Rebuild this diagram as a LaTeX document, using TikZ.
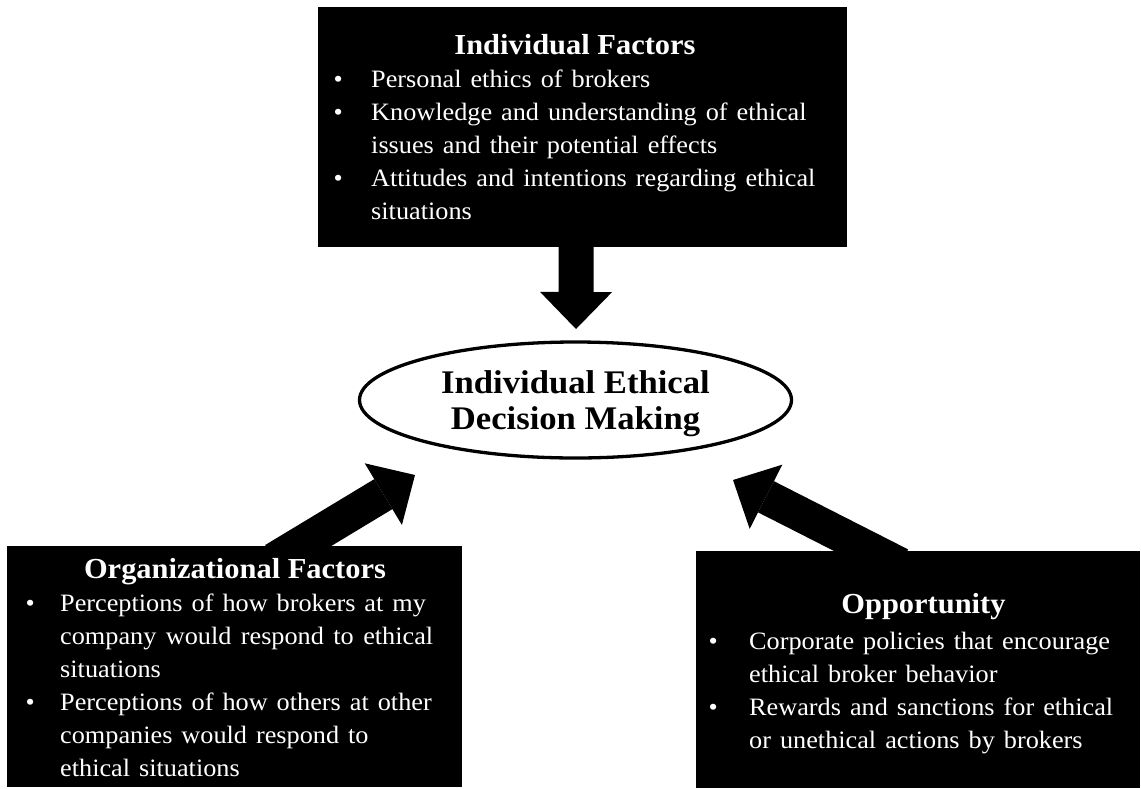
\documentclass[tikz,border=0pt]{standalone}
\usepackage{fontspec}
\setmainfont[FakeStretch=1.05]{Liberation Serif}
\usetikzlibrary{arrows.meta,shapes.geometric}
\pgfdeclarelayer{back}
\pgfdeclarelayer{bg}
\pgfsetlayers{back,bg,main}
\newcommand\bodyfont{\fontsize{25}{33}\selectfont\spaceskip=0.36em plus 0.5em\relax}
\newcommand\titlefont{\fontsize{29}{33}\selectfont\bfseries}
\newcommand\bul[1]{\llap{\textbullet\hspace{#1}}}
\tikzset{
  box/.style={fill=black, draw=none, inner sep=0pt, anchor=north west},
  ttl/.style={text=white, anchor=base, inner sep=0pt, font=\titlefont},
  body/.style={text=white, anchor=base west, inner sep=0pt, font=\bodyfont},
  bigarrow/.style={line width=35pt, -{Triangle[length=37pt,width=72pt,line width=0pt]}},
  decision/.style={ellipse, draw=black, line width=3.3pt, fill=white, inner sep=0pt,
    minimum width=432pt, minimum height=116pt}
}
\begin{document}
\begin{tikzpicture}[x=1pt,y=-1pt]
\useasboundingbox (0,0) rectangle (1141,788);
\begin{pgfonlayer}{back}
\fill[white] (0,0) rectangle (1141,788);
\end{pgfonlayer}

% boxes
\node[box, minimum width=529pt, minimum height=240pt] (indiv) at (318,7) {};
\node[box, minimum width=455pt, minimum height=241pt] (org) at (7,546) {};
\node[box, minimum width=444pt, minimum height=237pt] (opp) at (696,551) {};

% central ellipse
\node[decision] (dec) at (575.5,400) {};
\node[anchor=base, inner sep=0pt, font=\fontsize{33}{36}\selectfont\bfseries] (dectext) at (575.5,393)
  {\begin{tabular}[t]{@{}c@{}}Individual Ethical\\Decision Making\end{tabular}};

% titles
\node[ttl] (indivT) at (575,54) {Individual Factors};
\node[ttl] (orgT) at (235,578) {Organizational Factors};
\node[ttl] (oppT) at (923.5,613) {Opportunity};

% bodies
\node[body] (indivB) at (371,87) {\begin{tabular}[t]{@{}l@{}}
\bul{28.4pt}Personal ethics of brokers\\
\bul{28.4pt}Knowledge and understanding of ethical\\
issues and their potential effects\\
\bul{28.4pt}Attitudes and intentions regarding ethical\\
situations
\end{tabular}};

\node[body] (orgB) at (60,611) {\begin{tabular}[t]{@{}l@{}}
\bul{25.4pt}Perceptions of how brokers at my\\
\makebox[373pt][s]{company would respond to ethical}\\
situations\\
\bul{25.4pt}Perceptions of how others at other\\
companies would respond to\\
ethical situations
\end{tabular}};

\node[body] (oppB) at (749,649) {\begin{tabular}[t]{@{}l@{}}
\bul{31.4pt}Corporate policies that encourage\\
ethical broker behavior\\
\bul{31.4pt}Rewards and sanctions for ethical\\
or unethical actions by brokers
\end{tabular}};

% arrow tips
\coordinate (tipT) at (576,329);
\coordinate (tipL) at (415,475);
\coordinate (tipR) at (733,480);

\begin{pgfonlayer}{bg}
\draw[bigarrow] ([xshift=-6.5pt,yshift=17pt]indiv.south) -- (tipT);
\draw[bigarrow] ([xshift=39.5pt,yshift=-14pt]org.north) -- (tipL);
\draw[bigarrow] ([xshift=-18pt,yshift=-14pt]opp.north) -- (tipR);
\end{pgfonlayer}
\end{tikzpicture}
\end{document}
